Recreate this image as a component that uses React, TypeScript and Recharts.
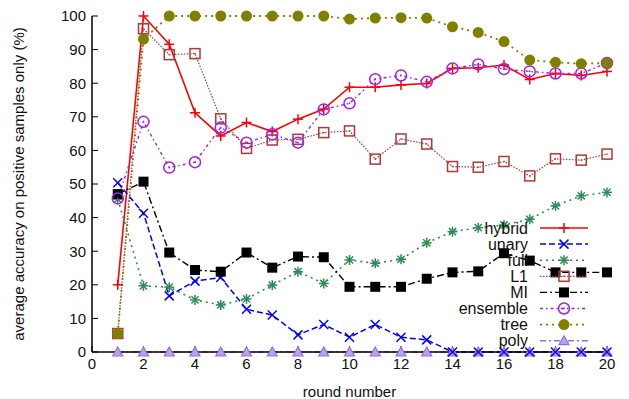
import React from "react";
import { LineChart, Line, XAxis, YAxis, Legend } from "recharts";

const rounds = [1, 2, 3, 4, 5, 6, 7, 8, 9, 10, 11, 12, 13, 14, 15, 16, 17, 18, 19, 20];
const hybrid = [20, 100, 91.6, 71.2, 64.3, 68.3, 65.6, 69.3, 72.3, 78.8, 78.8, 79.5, 79.9, 84.4, 84.6, 85.4, 81.1, 82.9, 82.3, 83.5];
const unary = [50.4, 41.3, 16.7, 21.1, 22.2, 12.7, 11.0, 5.1, 8.2, 4.4, 8.2, 4.4, 3.6, 0, 0, 0, 0, 0, 0, 0];
const full = [45.5, 19.7, 19.3, 15.5, 14.0, 15.8, 19.9, 23.9, 20.4, 27.4, 26.4, 27.6, 32.5, 35.8, 37, 37.8, 39.5, 43.5, 46.5, 47.5];
const l1 = [5.5, 96.2, 88.5, 88.8, 69.4, 60.6, 63.1, 63.3, 65.3, 65.8, 57.4, 63.4, 61.9, 55.2, 55, 56.7, 52.4, 57.5, 57.1, 58.9];
const mi = [47, 50.7, 29.6, 24.4, 23.9, 29.6, 25.1, 28.4, 28.2, 19.4, 19.4, 19.4, 21.8, 23.7, 24, 29.4, 27.2, 23.7, 23.7, 23.7];
const ensemble = [45.7, 68.5, 54.9, 56.5, 66.8, 62.3, 64.8, 62.3, 72.2, 74.0, 81.2, 82.3, 80.4, 84.4, 85.6, 84.2, 83.5, 82.9, 82.9, 86.0];
const tree = [5.5, 93.1, 100, 100, 100, 100, 100, 100, 100, 99.1, 99.4, 99.5, 99.4, 96.8, 95.1, 92.4, 86.9, 86.2, 85.8, 86.0];
const poly = [0, 0, 0, 0, 0, 0, 0, 0, 0, 0, 0, 0, 0, 0, 0, 0, 0, 0, 0, 0];

const xTicks = [0, 2, 4, 6, 8, 10, 12, 14, 16, 18, 20];
const yTicks = [0, 10, 20, 30, 40, 50, 60, 70, 80, 90, 100];

const data = rounds.map((r, i) => ({
  round: r,
  hybrid: hybrid[i],
  unary: unary[i],
  full: full[i],
  L1: l1[i],
  MI: mi[i],
  ensemble: ensemble[i],
  tree: tree[i],
  poly: poly[i],
}));

const FONT = '"Liberation Sans", Arial, Helvetica, sans-serif';

type MP = { cx?: number; cy?: number; color: string };

const Plus = ({ cx = 0, cy = 0, color }: MP) => (
  <g stroke={color} strokeWidth={1.5}>
    <line x1={cx - 5} x2={cx + 5} y1={cy} y2={cy} />
    <line x1={cx} x2={cx} y1={cy - 5} y2={cy + 5} />
  </g>
);
const Cross = ({ cx = 0, cy = 0, color }: MP) => (
  <g stroke={color} strokeWidth={1.5}>
    <line x1={cx - 4.5} x2={cx + 4.5} y1={cy - 4.5} y2={cy + 4.5} />
    <line x1={cx - 4.5} x2={cx + 4.5} y1={cy + 4.5} y2={cy - 4.5} />
  </g>
);
const Star = ({ cx = 0, cy = 0, color }: MP) => (
  <g stroke={color} strokeWidth={1.5}>
    <line x1={cx - 5} x2={cx + 5} y1={cy} y2={cy} />
    <line x1={cx} x2={cx} y1={cy - 5} y2={cy + 5} />
    <line x1={cx - 3.6} x2={cx + 3.6} y1={cy - 3.6} y2={cy + 3.6} />
    <line x1={cx - 3.6} x2={cx + 3.6} y1={cy + 3.6} y2={cy - 3.6} />
  </g>
);
const OpenSquare = ({ cx = 0, cy = 0, color }: MP) => (
  <g>
    <rect x={cx - 5} y={cy - 5} width={10} height={10} fill="none" stroke={color} strokeWidth={1.5} />
    <circle cx={cx} cy={cy} r={0.8} fill={color} />
  </g>
);
const FilledSquare = ({ cx = 0, cy = 0, color }: MP) => (
  <rect x={cx - 5} y={cy - 5} width={10} height={10} fill={color} />
);
const OpenCircle = ({ cx = 0, cy = 0, color }: MP) => (
  <g>
    <circle cx={cx} cy={cy} r={5.5} fill="none" stroke={color} strokeWidth={1.5} />
    <circle cx={cx} cy={cy} r={0.9} fill={color} />
  </g>
);
const FilledCircle = ({ cx = 0, cy = 0, color }: MP) => (
  <circle cx={cx} cy={cy} r={5.5} fill={color} />
);
const Triangle = ({ cx = 0, cy = 0, color }: MP) => (
  <path
    d={`M${cx},${cy - 5} L${cx + 5},${cy + 4} L${cx - 5},${cy + 4} Z`}
    fill="#b9a3ea"
    stroke={color}
    strokeWidth={1.2}
  />
);

type Series = {
  key: string;
  color: string;
  dash?: string;
  width: number;
  Mark: (p: MP) => React.ReactElement;
};

const SERIES: Series[] = [
  { key: "hybrid", color: "#ff0000", width: 1.6, Mark: Plus },
  { key: "unary", color: "#0000ff", dash: "6 3", width: 1.5, Mark: Cross },
  { key: "full", color: "#2e8b57", dash: "2 4", width: 1.6, Mark: Star },
  { key: "L1", color: "#b03838", dash: "1.5 1.5", width: 1.2, Mark: OpenSquare },
  { key: "MI", color: "#000000", dash: "7 3 2 3", width: 1.4, Mark: FilledSquare },
  { key: "ensemble", color: "#a020f0", dash: "3 3 1.5 3", width: 1.4, Mark: OpenCircle },
  { key: "tree", color: "#808000", dash: "2 4", width: 1.8, Mark: FilledCircle },
  { key: "poly", color: "#9370db", dash: "6 3 2 3", width: 1.4, Mark: Triangle },
];

// poly goes underneath the rest, like in the original
const drawOrder = [SERIES[7], ...SERIES.slice(0, 7)];

const LegendBox = () => (
  <svg width={180} height={135} style={{ display: "block" }}>
    {SERIES.map((s, i) => {
      const y = 8 + i * 16.1;
      const M = s.Mark;
      return (
        <g key={s.key}>
          <text
            x={98}
            y={y}
            textAnchor="end"
            dominantBaseline="central"
            fontSize={16}
            fontFamily={FONT}
            fill="#111"
          >
            {s.key}
          </text>
          <line x1={110} x2={158} y1={y} y2={y} stroke={s.color} strokeWidth={s.width} strokeDasharray={s.dash} />
          <M cx={134} cy={y} color={s.color} />
        </g>
      );
    })}
  </svg>
);

const YTitle = (props: any) => {
  const vb = props.viewBox || { x: 0, y: 16, height: 336 };
  const x = 24;
  const y = vb.y + vb.height / 2;
  return (
    <text
      x={x}
      y={y}
      transform={`rotate(-90 ${x} ${y})`}
      textAnchor="middle"
      fontSize={15}
      fontFamily={FONT}
      fill="#111"
    >
      average accuracy on positive samples only (%)
    </text>
  );
};

const tickStyle = { fontSize: 15, fill: "#111", fontFamily: FONT };

export default function App() {
  return (
    <div style={{ position: "absolute", left: 0, top: 0, width: 629, height: 399, background: "#fff" }}>
      <LineChart width={629} height={399} data={data} margin={{ top: 16, right: 22, left: 0, bottom: 0 }}>
        <XAxis
          dataKey="round"
          type="number"
          domain={[0, 20]}
          ticks={xTicks}
          height={47}
          tickSize={-6}
          tickMargin={12}
          tick={tickStyle}
          stroke="#000"
          axisLine={{ stroke: "#000", strokeWidth: 1.5 }}
          tickLine={{ stroke: "#000" }}
          label={{ value: "round number", position: "insideBottom", offset: 2, fontSize: 15, fill: "#111", fontFamily: FONT }}
        />
        <XAxis
          xAxisId="top"
          orientation="top"
          dataKey="round"
          type="number"
          domain={[0, 20]}
          ticks={xTicks}
          height={0}
          mirror
          tick={false}
          tickSize={6}
          axisLine={{ stroke: "#000", strokeWidth: 1.5 }}
          tickLine={{ stroke: "#000" }}
        />
        <YAxis
          type="number"
          domain={[0, 100]}
          ticks={yTicks}
          width={92}
          tickSize={-6}
          tickMargin={12}
          tick={tickStyle}
          axisLine={{ stroke: "#000", strokeWidth: 1.5 }}
          tickLine={{ stroke: "#000" }}
          label={YTitle}
        />
        <YAxis
          yAxisId="right"
          orientation="right"
          type="number"
          domain={[0, 100]}
          ticks={yTicks}
          width={0}
          mirror
          tick={false}
          tickSize={6}
          axisLine={{ stroke: "#000", strokeWidth: 1.5 }}
          tickLine={{ stroke: "#000" }}
        />
        <Legend
          content={LegendBox}
          layout="horizontal"
          verticalAlign="middle"
          align="center"
          wrapperStyle={{ left: 430, top: 220, width: 180, height: 135 }}
        />
        {drawOrder.map((s) => (
          <Line
            key={s.key}
            dataKey={s.key}
            type="linear"
            stroke={s.color}
            strokeWidth={s.width}
            strokeDasharray={s.dash}
            isAnimationActive={false}
            activeDot={false}
            dot={(p: any) => <s.Mark key={`${s.key}-${p.index}`} cx={p.cx} cy={p.cy} color={s.color} />}
          />
        ))}
      </LineChart>
    </div>
  );
}
